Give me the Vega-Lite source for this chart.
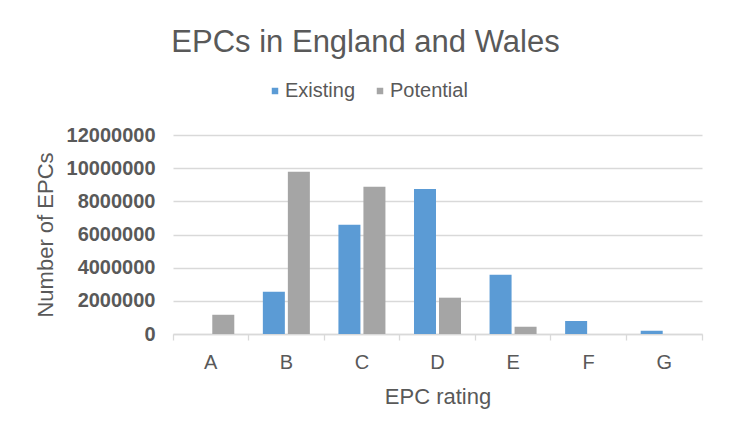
{
  "$schema": "https://vega.github.io/schema/vega-lite/v6.json",
  "width": 529,
  "height": 199,
  "autosize": {"type": "none"},
  "padding": {"left": 173, "top": 135, "right": 28, "bottom": 101},
  "background": "white",
  "config": {
    "view": {"stroke": null},
    "font": "Liberation Sans"
  },
  "title": {
    "text": "EPCs in England and Wales",
    "fontSize": 31,
    "font": "Liberation Sans",
    "fontWeight": "normal",
    "color": "#595959",
    "anchor": "middle",
    "baseline": "alphabetic",
    "dx": -72,
    "offset": -2
  },
  "data": {
    "values": [
      {"rating": "A", "type": "Existing", "count": 0},
      {"rating": "A", "type": "Potential", "count": 1160000},
      {"rating": "B", "type": "Existing", "count": 2550000},
      {"rating": "B", "type": "Potential", "count": 9780000},
      {"rating": "C", "type": "Existing", "count": 6590000},
      {"rating": "C", "type": "Potential", "count": 8880000},
      {"rating": "D", "type": "Existing", "count": 8750000},
      {"rating": "D", "type": "Potential", "count": 2190000},
      {"rating": "E", "type": "Existing", "count": 3570000},
      {"rating": "E", "type": "Potential", "count": 440000},
      {"rating": "F", "type": "Existing", "count": 780000},
      {"rating": "F", "type": "Potential", "count": 0},
      {"rating": "G", "type": "Existing", "count": 200000},
      {"rating": "G", "type": "Potential", "count": 0}
    ]
  },
  "mark": {"type": "bar"},
  "encoding": {
    "x": {
      "field": "rating",
      "type": "nominal",
      "scale": {"paddingInner": 0, "paddingOuter": 0},
      "axis": {
        "title": "EPC rating",
        "titleFontSize": 22,
        "titleFontWeight": "normal",
        "titleColor": "#595959",
        "titlePadding": 14,
        "labelAngle": 0,
        "labelFontSize": 20,
        "labelColor": "#595959",
        "labelPadding": 12,
        "tickSize": 6,
        "tickColor": "#d9d9d9",
        "tickWidth": 1.3,
        "domainColor": "#d9d9d9",
        "domainWidth": 1.3,
        "bandPosition": 1,
        "tickExtra": true,
        "grid": false
      }
    },
    "xOffset": {
      "field": "type",
      "type": "nominal",
      "scale": {"paddingInner": 0.12, "paddingOuter": 0.571}
    },
    "y": {
      "field": "count",
      "type": "quantitative",
      "scale": {"domain": [0, 12000000], "nice": false},
      "axis": {
        "title": "Number of EPCs",
        "titleFontSize": 22,
        "titleFontWeight": "normal",
        "titleColor": "#595959",
        "titlePadding": 9,
        "values": [0, 2000000, 4000000, 6000000, 8000000, 10000000, 12000000],
        "format": "d",
        "labelFontSize": 20,
        "labelFontWeight": "bold",
        "labelColor": "#595959",
        "labelPadding": 18,
        "tickSize": 0,
        "domain": false,
        "gridColor": "#d9d9d9",
        "gridWidth": 1.3
      }
    },
    "color": {
      "field": "type",
      "type": "nominal",
      "scale": {"domain": ["Existing", "Potential"], "range": ["#5b9bd5", "#a5a5a5"]},
      "legend": {
        "title": null,
        "orient": "none",
        "direction": "horizontal",
        "legendX": 92,
        "legendY": -54,
        "padding": 0,
        "symbolType": "square",
        "symbolSize": 42,
        "symbolStrokeWidth": 0,
        "symbolOpacity": 1,
        "labelFontSize": 20,
        "labelColor": "#595959",
        "labelOffset": 0,
        "columnPadding": 14
      }
    }
  }
}
